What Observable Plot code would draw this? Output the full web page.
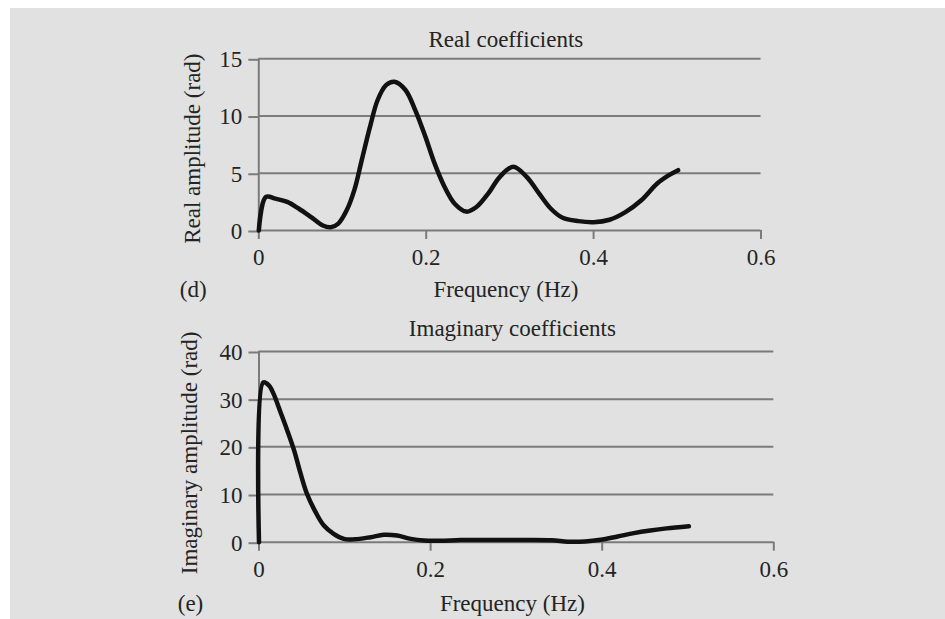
<!DOCTYPE html>
<html>
<head>
<meta charset="utf-8">
<script src="https://cdn.jsdelivr.net/npm/d3@7"></script>
<script src="https://cdn.jsdelivr.net/npm/@observablehq/plot@0.6"></script>
<style>
  html, body { margin: 0; padding: 0; background: #ffffff; }
  #page { position: absolute; left: 10px; top: 8px; width: 935px; height: 611px; background: #e1e1e1; }
  .panel { position: absolute; left: 0; }
  #real { top: 0; }
  #imag { top: 310px; }
</style>
</head>
<body>
<div id="page"></div>
<div id="real" class="panel"></div>
<div id="imag" class="panel"></div>
<script>
// Panel (d): real Fourier coefficients
const realFreq = [0, 0.0085, 0.02, 0.034, 0.048, 0.0625, 0.0765, 0.086, 0.095, 0.105, 0.114, 0.123, 0.133, 0.142, 0.152, 0.162, 0.175, 0.187, 0.199, 0.21, 0.222, 0.234, 0.248, 0.26, 0.274, 0.288, 0.304, 0.32, 0.335, 0.349, 0.363, 0.382, 0.4, 0.419, 0.438, 0.457, 0.476, 0.49, 0.501];
const realAmp  = [0, 2.93, 2.78, 2.5, 1.9, 1.17, 0.44, 0.28, 0.6, 1.76, 3.5, 6.15, 9.1, 11.4, 12.7, 13.0, 12.3, 10.5, 8.2, 5.86, 3.8, 2.34, 1.65, 2.05, 3.22, 4.69, 5.57, 4.69, 3.22, 1.9, 1.11, 0.82, 0.73, 0.94, 1.61, 2.64, 4.1, 4.83, 5.27];

// Panel (e): imaginary Fourier coefficients
const imagFreq = [0, 0.005, 0.0115, 0.017, 0.025, 0.033, 0.041, 0.048, 0.056, 0.066, 0.0756, 0.087, 0.099, 0.111, 0.13, 0.1455, 0.161, 0.177, 0.192, 0.211, 0.235, 0.27, 0.305, 0.341, 0.36, 0.38, 0.398, 0.418, 0.437, 0.456, 0.475, 0.501];
const imagAmp  = [0, 33.5, 32.9, 31.1, 27.3, 23.4, 19.2, 14.7, 10.1, 6.3, 3.5, 1.76, 0.7, 0.6, 1.05, 1.55, 1.4, 0.7, 0.35, 0.3, 0.45, 0.45, 0.45, 0.4, 0.1, 0.15, 0.5, 1.2, 1.9, 2.45, 2.9, 3.35];

// Axis ticks
const freqTicks = [0, 0.2, 0.4, 0.6];
const realTicks = [0, 5, 10, 15];
const imagTicks = [0, 10, 20, 30, 40];

const FONT = "Liberation Serif, Times New Roman, serif";
const TEXT = "#242424";
const GRID = "#7b7b7b";
const FS = 23;

function panel({freq, amp, yTicks, yMax, title, yLabel, tag, height,
                marginLeft, marginRight, marginTop, marginBottom,
                titleDy, labelDx, labelDy, bottomDy}) {
  const rows = freq.map((f, i) => ({f, a: amp[i]}));
  const label = {text: d => d, fill: TEXT, fontSize: FS, lineAnchor: "middle", textAnchor: "middle"};
  return Plot.plot({
    width: 945,
    height,
    marginLeft, marginRight, marginTop, marginBottom,
    style: {background: "transparent", fontFamily: FONT, fontSize: FS + "px", color: TEXT},
    x: {domain: [0, 0.6]},
    y: {domain: [0, yMax]},
    marks: [
      Plot.gridY(yTicks, {stroke: GRID, strokeOpacity: 1, strokeWidth: 2}),
      Plot.ruleX([0], {stroke: GRID, strokeWidth: 2}),
      Plot.axisY(yTicks, {tickSize: 10, tickPadding: 6.6, stroke: GRID, strokeWidth: 2,
                          fill: TEXT, fontSize: FS, dy: 1, label: null}),
      Plot.axisX(freqTicks, {tickSize: 9, tickPadding: 9, stroke: GRID, strokeWidth: 2,
                             fill: TEXT, fontSize: FS, label: null, tickFormat: d => String(d)}),
      Plot.line(rows, {x: "f", y: "a", curve: "catmull-rom", stroke: "#111",
                       strokeWidth: 4.5, strokeLinejoin: "round", strokeLinecap: "round"}),
      Plot.text([title], {...label, frameAnchor: "top", dy: titleDy, dx: -4}),
      Plot.text([yLabel], {...label, frameAnchor: "left", rotate: -90, dx: labelDx, dy: labelDy}),
      Plot.text(["Frequency (Hz)"], {...label, frameAnchor: "bottom", dy: bottomDy, dx: -4}),
      Plot.text([tag], {...label, frameAnchor: "bottom-left", dx: labelDx + 1, dy: bottomDy})
    ]
  });
}

document.getElementById("real").append(panel({
  freq: realFreq, amp: realAmp, yTicks: realTicks, yMax: 15,
  title: "Real coefficients", yLabel: "Real amplitude (rad)", tag: "(d)",
  height: 310, marginLeft: 258.3, marginRight: 184.5, marginTop: 58.3, marginBottom: 80,
  titleDy: -19, labelDx: -66.6, labelDy: 4, bottomDy: 59.3
}));

document.getElementById("imag").append(panel({
  freq: imagFreq, amp: imagAmp, yTicks: imagTicks, yMax: 40,
  title: "Imaginary coefficients", yLabel: "Imaginary amplitude (rad)", tag: "(e)",
  height: 309, marginLeft: 258.5, marginRight: 171.7, marginTop: 41, marginBottom: 77.3,
  titleDy: -22.7, labelDx: -69.5, labelDy: 6, bottomDy: 61.5
}));
</script>
</body>
</html>
